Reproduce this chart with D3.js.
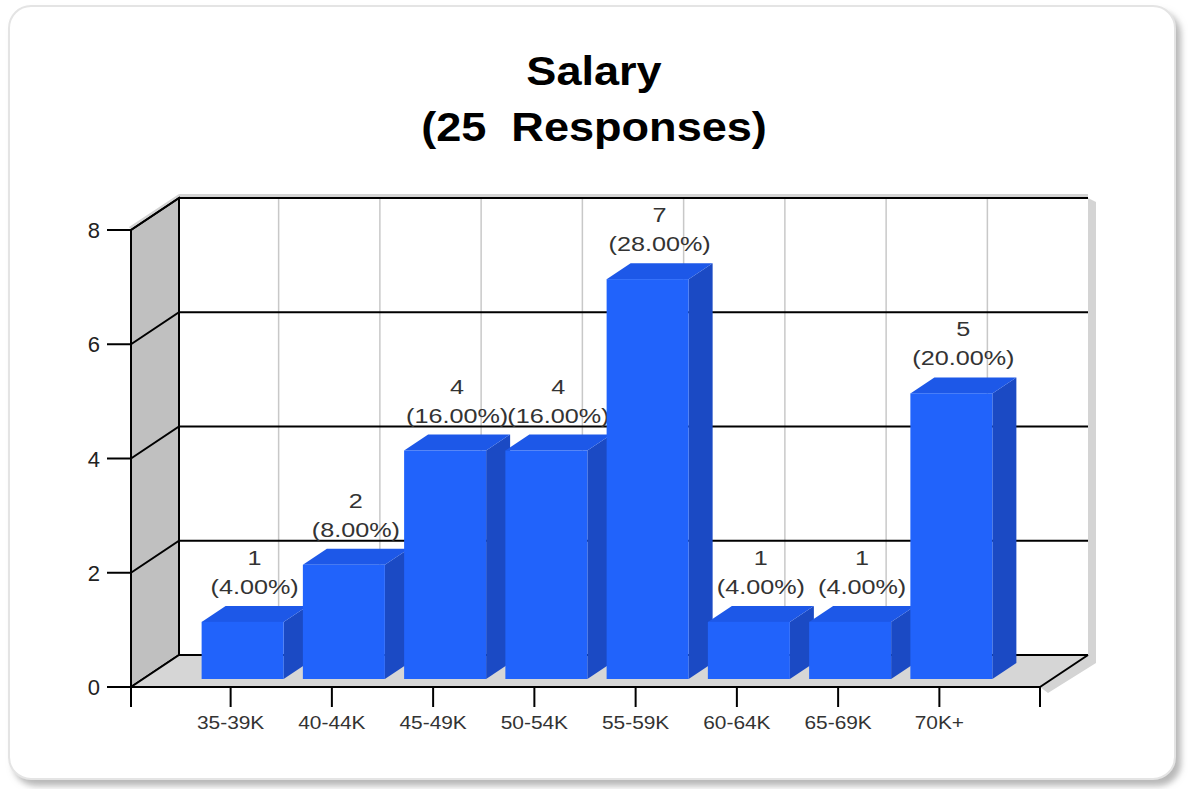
<!DOCTYPE html>
<html>
<head>
<meta charset="utf-8">
<script src="https://cdn.jsdelivr.net/npm/d3@7"></script>
<style>
    html, body { margin: 0; padding: 0; background: #ffffff; }
    svg { display: block; }
    text { font-family: "Liberation Sans", Arial, sans-serif; white-space: pre; }
</style>
</head>
<body>
<svg id="chart"></svg>
<script>
// Salary (25 responses) - 3D column chart

const categories = ["35-39K", "40-44K", "45-49K", "50-54K", "55-59K", "60-64K", "65-69K", "70K+"]
const counts = [1, 2, 4, 4, 7, 1, 1, 5]
const percents = ["4.00%", "8.00%", "16.00%", "16.00%", "28.00%", "4.00%", "4.00%", "20.00%"]
const yTicks = [0, 2, 4, 6, 8]
const titleLines = ["Salary", "(25  Responses)"]

const svgWidth = 1188
const svgHeight = 789

const svg = d3.select("#chart")
    .attr("width", svgWidth)
    .attr("height", svgHeight)

// depth of the 3d box
const depthX = 48
const depthY = -32

const axisLeft = 131
const axisRight = 1040

const y = d3.scaleLinear()
    .domain([0, 8])
    .range([687, 230])

const x = d3.scaleBand()
    .domain(categories)
    .range([180, 990])
    .paddingInner(0.19)
    .paddingOuter(0.095)

const center = d => x(d) + x.bandwidth() / 2

// move a point to depth t (0 = front, 1 = back wall)
function deep(px, py, t) {
    return [px + t * depthX, py + t * depthY]
}

// card + shadow
const defs = svg.append("defs")
const shadow = defs.append("filter")
    .attr("id", "cardShadow")
    .attr("x", "-5%").attr("y", "-5%")
    .attr("width", "110%").attr("height", "110%")
shadow.append("feDropShadow")
    .attr("dx", 5).attr("dy", 6)
    .attr("stdDeviation", 3)
    .attr("flood-color", "#9a9a9a")
    .attr("flood-opacity", 0.7)

svg.append("rect")
    .attr("x", 9)
    .attr("y", 6)
    .attr("width", 1166)
    .attr("height", 773)
    .attr("rx", 22)
    .attr("fill", "#ffffff")
    .attr("stroke", "#e4e4e4")
    .attr("stroke-width", 2)
    .attr("filter", "url(#cardShadow)")

// title
svg.selectAll(".title")
    .data(titleLines)
    .enter()
    .append("text")
    .attr("class", "title")
    .attr("transform", (d, i) => `translate(594, ${85 + i * 56}) scale(1.1, 1)`)
    .attr("text-anchor", "middle")
    .attr("font-size", 41)
    .attr("font-weight", "bold")
    .attr("fill", "#000")
    .text(d => d)

const y0 = y(0)
const yTop = y(8)
const backLeft = axisLeft + depthX
const backRight = axisRight + depthX

// soft shadows behind the box
const line = d3.line()
svg.append("path")
    .attr("d", line([[axisLeft, yTop], [backLeft, yTop + depthY], [backRight, yTop + depthY],
        [backRight + 8, yTop + depthY + 4], [backRight + 8, y0 + depthY + 8],
        [axisRight + 8, y0 + 6], [axisRight, y0],
        [backRight, y0 + depthY], [backRight, yTop + depthY - 4],
        [backLeft, yTop + depthY - 4], [axisLeft - 2, yTop - 3]]) + "Z")
    .attr("fill", "#d4d4d4")

// back wall
svg.append("rect")
    .attr("x", backLeft)
    .attr("y", yTop + depthY)
    .attr("width", backRight - backLeft)
    .attr("height", y0 - yTop)
    .attr("fill", "#ffffff")

// left wall
svg.append("path")
    .attr("d", line([[axisLeft, y0], [axisLeft, yTop], [backLeft, yTop + depthY], [backLeft, y0 + depthY]]) + "Z")
    .attr("fill", "#c0c0c0")
    .attr("stroke", "#000")
    .attr("stroke-width", 2)

// floor
svg.append("path")
    .attr("d", line([[axisLeft, y0], [axisRight, y0], [backRight, y0 + depthY], [backLeft, y0 + depthY]]) + "Z")
    .attr("fill", "#d6d6d6")

// vertical grid on back wall
svg.selectAll(".vgrid")
    .data(categories)
    .enter()
    .append("line")
    .attr("x1", d => center(d) + depthX)
    .attr("x2", d => center(d) + depthX)
    .attr("y1", yTop + depthY)
    .attr("y2", y0 + depthY)
    .attr("stroke", "#c8c8c8")
    .attr("stroke-width", 1.5)

// horizontal grid on back wall + diagonals on left wall
svg.selectAll(".hgrid")
    .data(yTicks)
    .enter()
    .append("path")
    .attr("d", d => line([[axisLeft, y(d)], [backLeft, y(d) + depthY], [backRight, y(d) + depthY]]))
    .attr("fill", "none")
    .attr("stroke", "#000")
    .attr("stroke-width", 2)

// floor right edge
svg.append("line")
    .attr("x1", axisRight).attr("y1", y0)
    .attr("x2", backRight).attr("y2", y0 + depthY)
    .attr("stroke", "#000")
    .attr("stroke-width", 2)

// back wall left edge
svg.append("line")
    .attr("x1", backLeft).attr("y1", yTop + depthY)
    .attr("x2", backLeft).attr("y2", y0 + depthY)
    .attr("stroke", "#000")
    .attr("stroke-width", 2)

// bars
const barFront = 0.25
const barDepth = 0.5
const bw = x.bandwidth()

const bars = svg.selectAll(".bar")
    .data(categories.map((c, i) => ({ cat: c, value: counts[i], pct: percents[i] })))
    .enter()
    .append("g")
    .attr("class", "bar")

bars.each(function (d) {
    const g = d3.select(this)
    const [fx, fyBottom] = deep(center(d.cat) - bw / 2, y0, barFront)
    const [, fyTop] = deep(0, y(d.value), barFront)
    const x0 = fx
    const x1 = fx + bw
    const ox = barDepth * depthX
    const oy = barDepth * depthY

    g.append("path") // side
        .attr("d", line([[x1, fyTop], [x1 + ox, fyTop + oy], [x1 + ox, fyBottom + oy], [x1, fyBottom]]) + "Z")
        .attr("fill", "#1b4ac4")
    g.append("path") // top
        .attr("d", line([[x0, fyTop], [x1, fyTop], [x1 + ox, fyTop + oy], [x0 + ox, fyTop + oy]]) + "Z")
        .attr("fill", "#1d58e8")
    g.append("rect") // front
        .attr("x", x0)
        .attr("y", fyTop)
        .attr("width", bw)
        .attr("height", fyBottom - fyTop)
        .attr("fill", "#2163fb")
})

// value labels (centred on the middle of the bar's depth)
bars.each(function (d) {
    const g = d3.select(this)
    const lx = deep(center(d.cat), 0, 0.5)[0]
    const ly = deep(0, y(d.value), 0.75)[1]
    g.append("text")
        .attr("transform", `translate(${lx}, ${ly - 41}) scale(1.2, 1)`)
        .attr("text-anchor", "middle")
        .attr("font-size", 21)
        .attr("fill", "#333")
        .text(d.value)
    g.append("text")
        .attr("transform", `translate(${lx}, ${ly - 12}) scale(1.2, 1)`)
        .attr("text-anchor", "middle")
        .attr("font-size", 21)
        .attr("fill", "#333")
        .text("(" + d.pct + ")")
})

// front x axis
svg.append("line")
    .attr("x1", axisLeft - 24).attr("y1", y0)
    .attr("x2", axisRight).attr("y2", y0)
    .attr("stroke", "#000")
    .attr("stroke-width", 2)

const xTickPos = [axisLeft].concat(categories.map(center)).concat([axisRight])
svg.selectAll(".xtick")
    .data(xTickPos)
    .enter()
    .append("line")
    .attr("x1", d => d).attr("x2", d => d)
    .attr("y1", y0).attr("y2", y0 + 20)
    .attr("stroke", "#000")
    .attr("stroke-width", 2)

svg.selectAll(".xlabel")
    .data(categories)
    .enter()
    .append("text")
    .attr("transform", d => `translate(${center(d)}, 729) scale(1.1, 1)`)
    .attr("text-anchor", "middle")
    .attr("font-size", 19)
    .attr("fill", "#333")
    .text(d => d)

// y axis ticks
svg.selectAll(".ytick")
    .data(yTicks)
    .enter()
    .append("line")
    .attr("x1", axisLeft - 24).attr("x2", axisLeft)
    .attr("y1", d => y(d)).attr("y2", d => y(d))
    .attr("stroke", "#000")
    .attr("stroke-width", 2)

svg.selectAll(".ylabel")
    .data(yTicks)
    .enter()
    .append("text")
    .attr("x", 100)
    .attr("y", d => y(d) + 8)
    .attr("text-anchor", "end")
    .attr("font-size", 22)
    .attr("fill", "#222")
    .text(d => d)
</script>
</body>
</html>
